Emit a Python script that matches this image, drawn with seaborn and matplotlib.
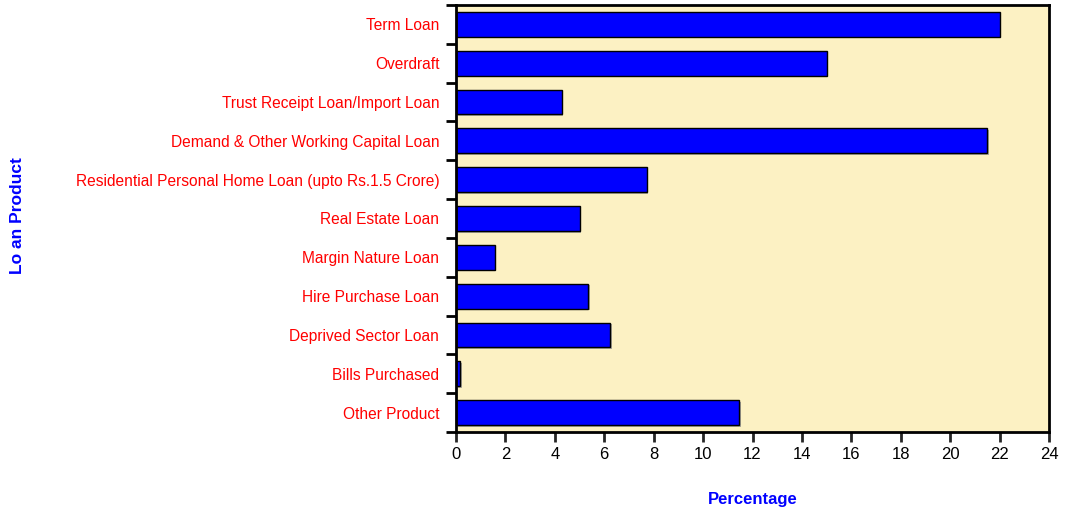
import matplotlib
matplotlib.use('Agg')
import matplotlib.pyplot as plt
import matplotlib.patheffects as pe
from matplotlib.ticker import FixedLocator, MultipleLocator
import pandas as pd
import seaborn as sns

products = ['Term Loan', 'Overdraft', 'Trust Receipt Loan/Import Loan',
            'Demand & Other Working Capital Loan',
            'Residential Personal Home Loan (upto Rs.1.5 Crore)',
            'Real Estate Loan', 'Margin Nature Loan', 'Hire Purchase Loan',
            'Deprived Sector Loan', 'Bills Purchased', 'Other Product']
percentage = [22.0, 15.0, 4.27, 21.5, 7.72, 5.0, 1.56, 5.35, 6.25, 0.16, 11.47]

df = pd.DataFrame({'Loan Product': products, 'Percentage': percentage})

sns.set_style('ticks')
plt.rcParams['font.family'] = ['Liberation Sans', 'DejaVu Sans']

fig = plt.figure(figsize=(10.66, 5.08), dpi=100)
ax = fig.add_axes([456 / 1066, 1 - 432 / 508, 593 / 1066, 427 / 508])
ax.set_facecolor('#FCF1C3')

sns.barplot(data=df, x='Percentage', y='Loan Product', orient='h', color='#0000FF',
            saturation=1, width=0.64, edgecolor='black', linewidth=1.0, ax=ax)
for bar in ax.patches:
    bar.set_path_effects([pe.SimplePatchShadow(offset=(1.2, -1.2), shadow_rgbFace='#888888', alpha=0.7),
                          pe.Normal()])

ax.set_xlim(0, 24)
ax.set_ylim(len(products) - 0.5, -0.5)
ax.xaxis.set_major_locator(MultipleLocator(2))
ax.yaxis.set_minor_locator(FixedLocator([i - 0.5 for i in range(len(products) + 1)]))
ax.tick_params(axis='y', which='major', length=0, pad=12, labelsize=11.2, labelcolor='#FF0000')
ax.tick_params(axis='y', which='minor', length=7, width=2, color='black')
ax.tick_params(axis='x', which='major', length=7, width=2, labelsize=12, labelcolor='black')

for s in ax.spines.values():
    s.set_color('black')
    s.set_linewidth(2)

ax.set_xlabel('Percentage', color='#0000FF', fontweight='bold', fontsize=12, labelpad=22)
ax.set_ylabel('')
fig.text(18 / 1066, 0.575, 'Lo an Product', rotation=90, color='#0000FF', fontweight='bold',
         fontsize=12.5, ha='center', va='center')

fig.savefig('out.png', dpi=100)
